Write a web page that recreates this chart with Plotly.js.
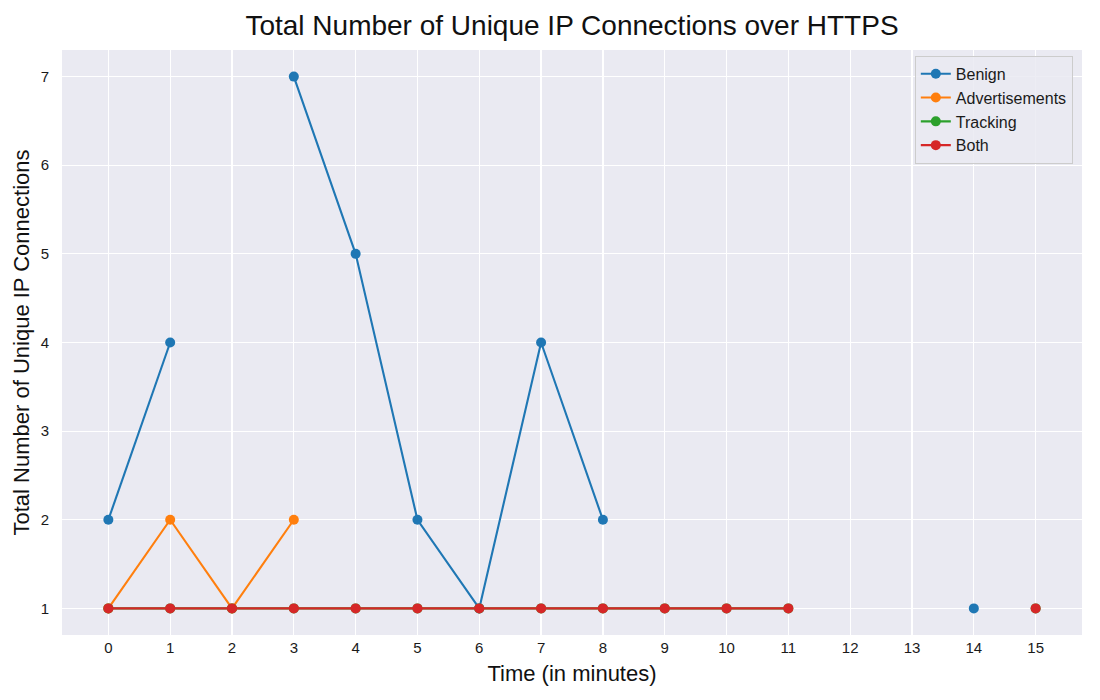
<!DOCTYPE html>
<html>
<head>
<meta charset="utf-8">
<script src="https://cdn.plot.ly/plotly-3.0.1.min.js"></script>
<style>body{margin:0;padding:0;background:#fff}#chart{width:1100px;height:700px}</style>
</head>
<body>
<div id="chart"></div>
<script>
const minutes = [0,1,2,3,4,5,6,7,8,9,10,11,12,13,14,15];
const benign = [2,4,null,7,5,2,1,4,2,null,null,null,null,null,1,null];
const advertisements = [1,2,1,2,null,null,null,null,null,null,null,null,null,null,null,null];
const tracking = [1,1,1,1,1,1,1,1,1,1,1,1,null,null,null,1];
const both = [1,1,1,1,1,1,1,1,1,1,1,1,null,null,null,1];
const seriesNames = ["Benign","Advertisements","Tracking","Both"];
const seriesColors = ["#1f77b4","#ff7f0e","#2ca02c","#d62728"];
const seriesData = [benign, advertisements, tracking, both];

const traces = seriesData.map((ys, i) => ({
  x: minutes, y: ys, name: seriesNames[i], type: 'scatter', mode: 'lines+markers',
  line: {color: seriesColors[i], width: 2.1},
  marker: {color: seriesColors[i], size: 10},
  connectgaps: false
}));

const font = "'Liberation Sans', Arial, sans-serif";
const layout = {
  width: 1100, height: 700,
  margin: {l: 62, r: 18, t: 50, b: 65},
  paper_bgcolor: '#ffffff', plot_bgcolor: '#eaeaf2',
  font: {family: font, color: '#1a1a1a', size: 12},
  title: {text: 'Total Number of Unique IP Connections over HTTPS', font: {size: 28, family: font, color: '#111'}, xref: 'paper', x: 0.5, xanchor: 'center', y: 0.964, yanchor: 'middle'},
  xaxis: {
    title: {text: 'Time (in minutes)', font: {size: 22, family: font, color: '#111'}, standoff: 10},
    range: [-0.75, 15.75], tickmode: 'array', tickvals: minutes, ticktext: minutes.map(String),
    gridcolor: '#ffffff', gridwidth: 1.2, zeroline: false, showline: false, ticks: '',
    tickfont: {size: 15, color: '#1a1a1a'}, ticklabelstandoff: 2
  },
  yaxis: {
    title: {text: 'Total Number of Unique IP Connections', font: {size: 22, family: font, color: '#111'}, standoff: 4},
    range: [0.7, 7.3], tickmode: 'array', tickvals: [1,2,3,4,5,6,7],
    gridcolor: '#ffffff', gridwidth: 1.2, zeroline: false, showline: false, ticks: '',
    tickfont: {size: 15, color: '#1a1a1a'}, ticklabelstandoff: 12
  },
  legend: {
    x: 0.991, y: 0.99, xanchor: 'right', yanchor: 'top',
    bgcolor: 'rgba(234,234,242,0.85)', bordercolor: '#cccccc', borderwidth: 1,
    font: {size: 16, family: font, color: '#1a1a1a'}, tracegroupgap: 0
  },
  showlegend: true
};
Plotly.newPlot('chart', traces, layout, {displayModeBar: false, staticPlot: true});
</script>
</body>
</html>
